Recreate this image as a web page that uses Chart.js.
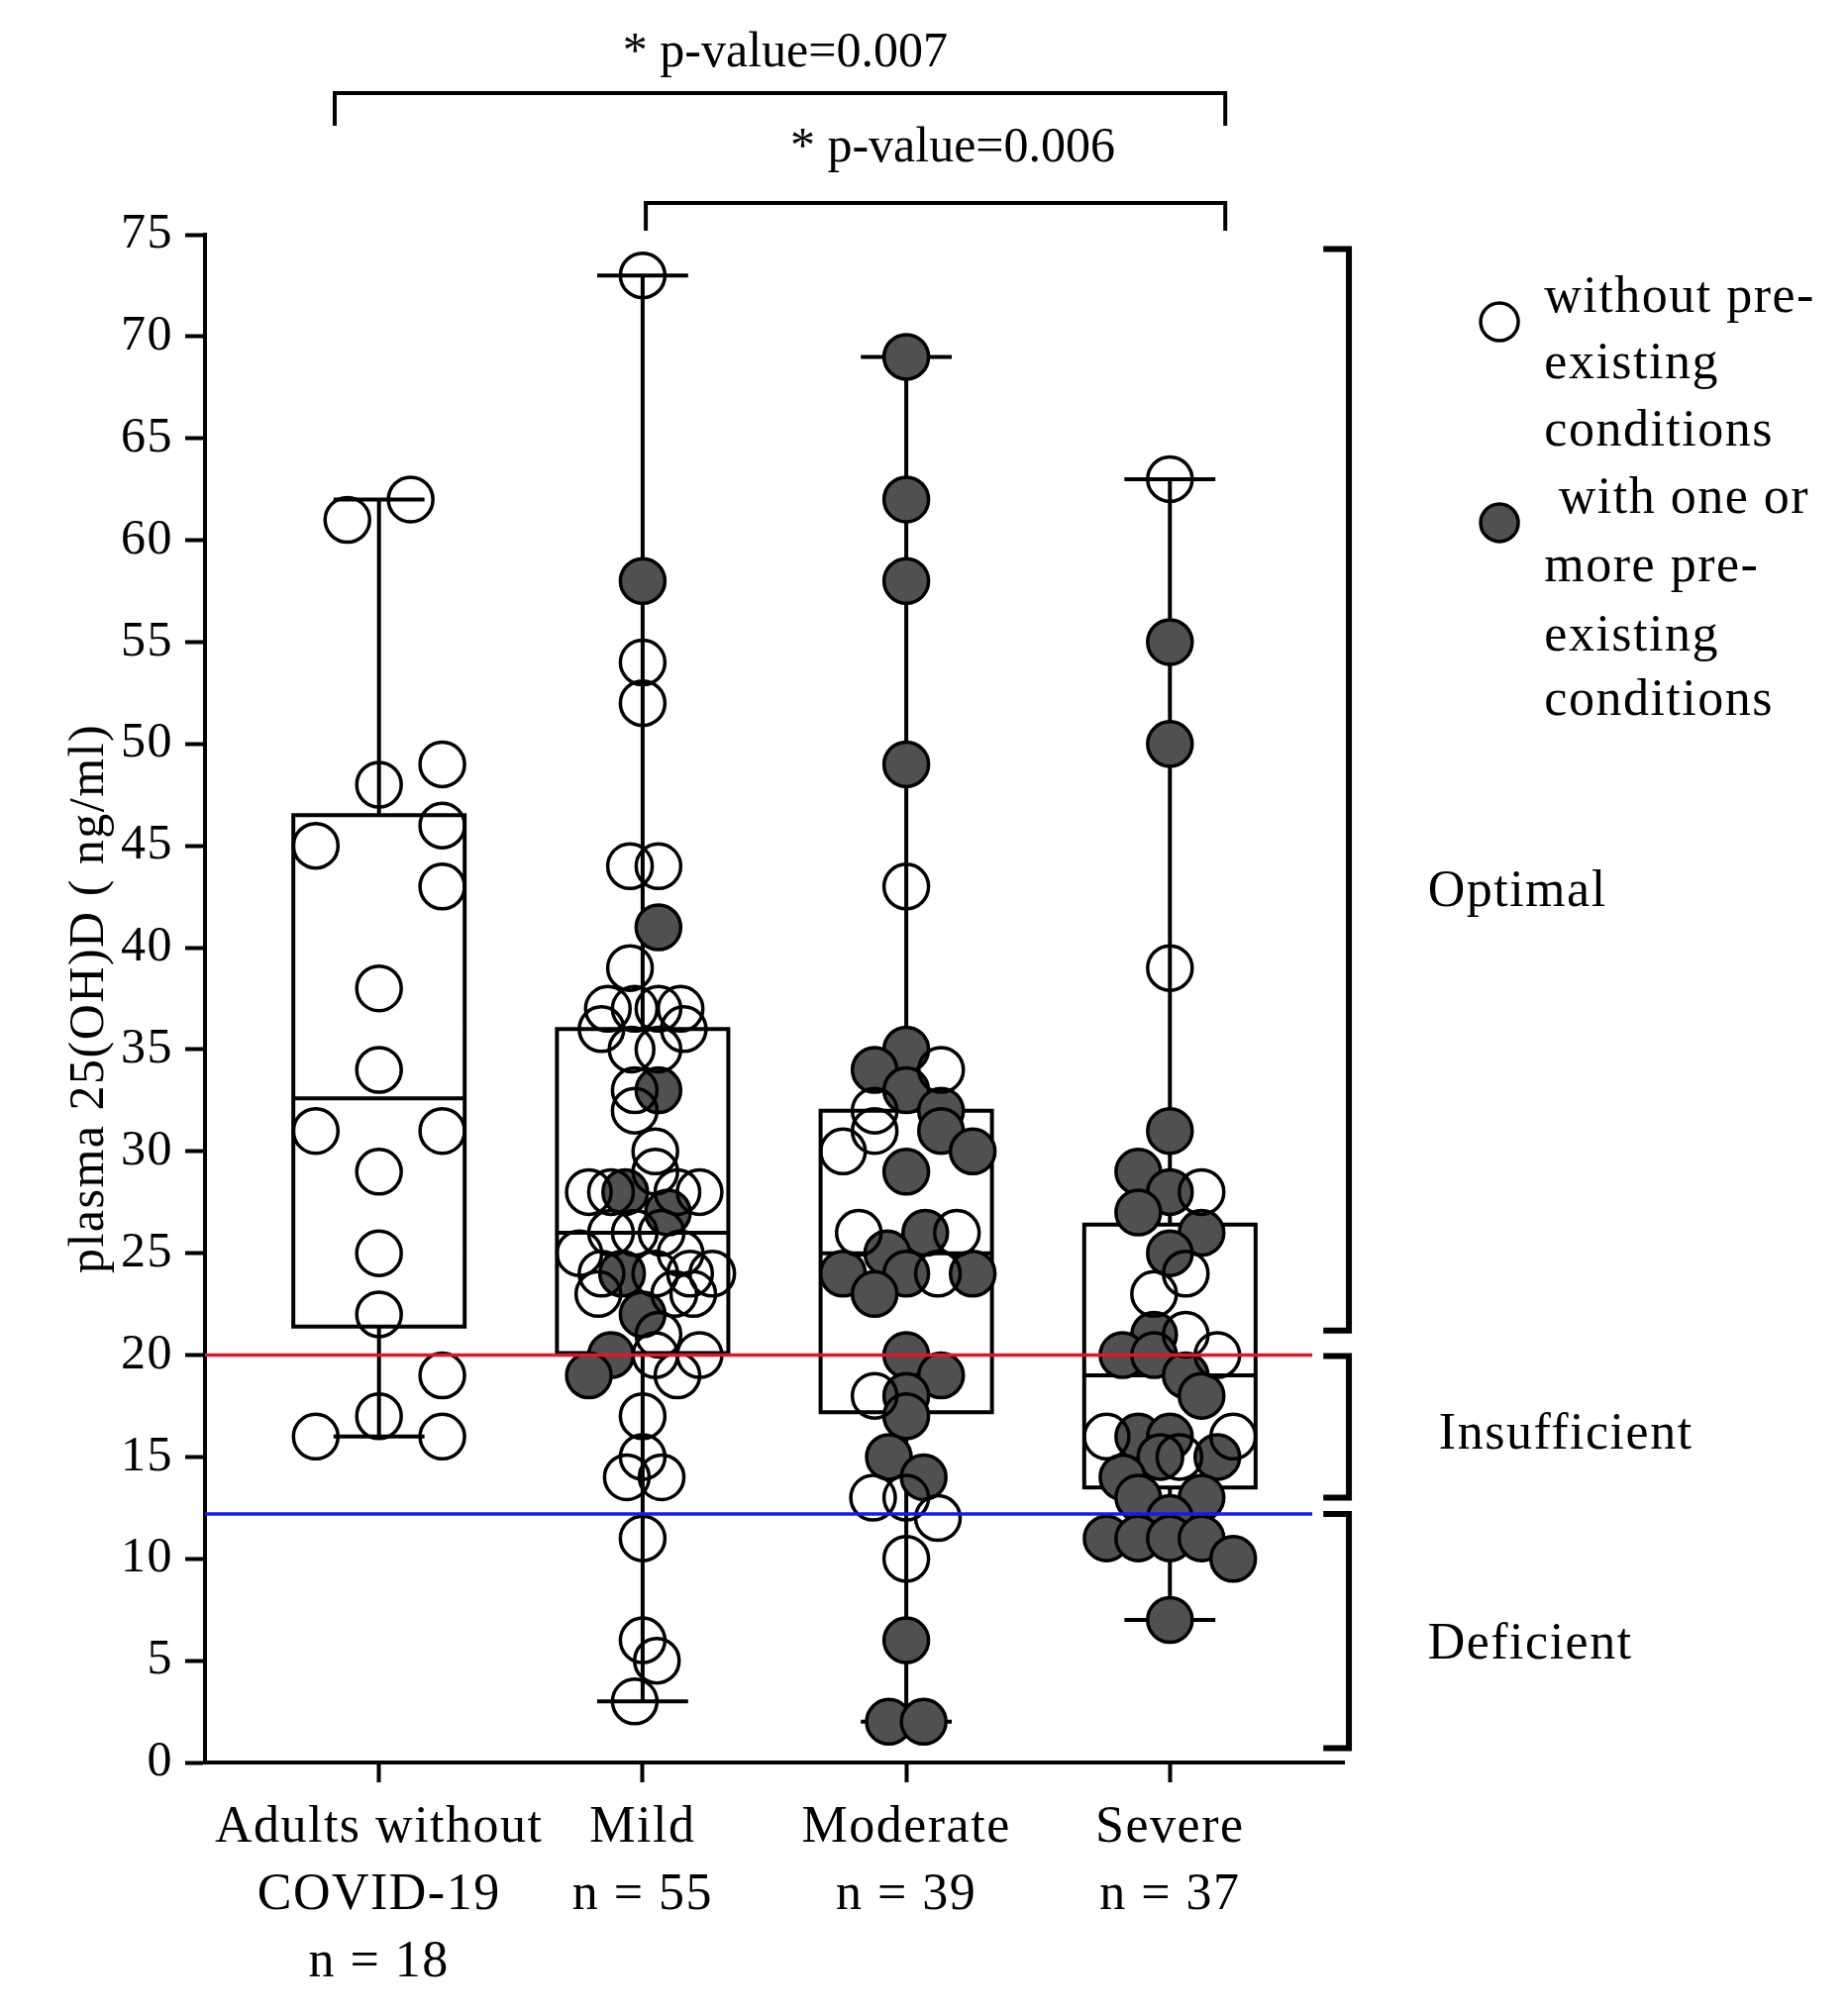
<!DOCTYPE html>
<html><head><meta charset="utf-8">
<script src="https://cdn.jsdelivr.net/npm/chart.js@4.4.1/dist/chart.umd.min.js"></script>
<style>html,body{margin:0;padding:0;background:#fff}canvas{display:block}</style>
</head><body>
<canvas id="c" width="1866" height="2035"></canvas>
<script>
// ---------------- DATA ----------------
const categories = [["Adults without","COVID-19","n = 18"],["Mild","n = 55"],["Moderate","n = 39"],["Severe","n = 37"]];
const yTicks = [0,5,10,15,20,25,30,35,40,45,50,55,60,65,70,75];
const yTitle = "plasma 25(OH)D ( ng/ml)";

// box plot statistics per group
const whiskerLow  = [16, 3, 2, 7];
const q1          = [21.4, 20.1, 17.2, 13.5];
const median      = [32.6, 26, 25, 19];
const q3          = [46.5, 36, 32, 26.4];
const whiskerHigh = [62, 73, 69, 63];

// individual patients (value) and their swarm column (slot) — open = without pre-existing conditions
const adultsOpen      = [62,61,49,48,46,45,43,38,34,31,31,29,25,22,19,17,16,16];
const adultsOpenSlot  = [1,-1,2,0,2,-2,2,0,0,-2,2,0,0,0,2,0,-2,2];
const adultsFilled     = [];
const adultsFilledSlot = [];

const mildOpen      = [73,54,52,44,44,39,37,37,37,37,36,36,35,35,33,32,30,29,28,28,28,28,26,26,26,25,25,24,24,24,24,23,23,23,21,20,20,19,17,15,14,14,11,6,5,3];
const mildOpenSlot  = [0,0,0,-0.4,0.5,-0.4,-1.1,-0.25,0.5,1.2,-1.3,1.3,-0.35,0.5,-0.25,-0.25,0.4,0.4,-1.7,-1.0,1.1,1.8,-1.0,-0.25,0.6,-2.0,1.2,-1.3,0.4,1.5,2.2,-1.4,1.0,1.6,0.5,0.4,1.8,1.1,0,0,-0.5,0.6,0,0,0.45,-0.25];
const mildFilled     = [58,41,33,28,27,24,22,20,19];
const mildFilledSlot = [0,0.5,0.5,-0.55,0.8,-0.65,0,-1.0,-1.7];

const moderateOpen      = [43,34,32,31,30,26,26,24,18,13,13,12,10];
const moderateOpenSlot  = [0,1.1,-1,-1,-2,-1.5,1.6,1,-1,-1.05,0,1,0];
const moderateFilled     = [69,62,58,49,35,34,33,32,31,30,29,26,25,24,24,24,23,20,19,18,17,15,14,6,2,2];
const moderateFilledSlot = [0,0,0,0,0,-1,0,1.1,1.1,2.1,0,0.6,-0.6,-2,0,2.1,-1,0,1.1,0,0,-0.55,0.55,0,-0.55,0.55];

const severeOpen      = [63,39,28,24,23,21,20,16,16,15];
const severeOpenSlot  = [0,0,1,0.5,-0.5,0.5,1.5,-2,2,0.3];
const severeFilled     = [55,50,31,29,28,27,26,25,21,20,20,19,18,16,16,15,15,14,13,13,12,11,11,11,11,10,7];
const severeFilledSlot = [0,0,0,-1,0,-1,1,0,-0.5,-1.5,-0.5,0.5,1,-1,0,1.5,-0.3,-1.5,1,-1,0,-2,-1,0,1,2,0];

const insufficientCut = 20;
const deficientCut = 12.2;

const pTests = [ {label:"* p-value=0.007"}, {label:"* p-value=0.006"} ];
const zones = [ {label:"Optimal", from:74.3, to:21.2}, {label:"Insufficient", from:19.95, to:13.0}, {label:"Deficient", from:12.2, to:0.7} ];
const legendLines = [["without pre-","existing","conditions"],[" with one or","more pre-","existing","conditions"]];

// ---------------- LAYOUT / STYLE ----------------
const FONT = "'Liberation Serif', 'Times New Roman', serif";
const FS = 52;
const SPACING = '1.5px';
const SLOT = 0.12, BOX_HALF = 0.325, CAP_HALF = 0.165;
const FILL = '#505050';
const XMIN = -0.66, XMAX = 3.66;

function swarm(values, slots, g){ return values.map((v,i)=>({x:g+slots[i]*SLOT, y:v})); }
const openPts = [].concat(
  swarm(adultsOpen, adultsOpenSlot, 0), swarm(mildOpen, mildOpenSlot, 1),
  swarm(moderateOpen, moderateOpenSlot, 2), swarm(severeOpen, severeOpenSlot, 3));
const filledPts = [].concat(
  swarm(adultsFilled, adultsFilledSlot, 0), swarm(mildFilled, mildFilledSlot, 1),
  swarm(moderateFilled, moderateFilledSlot, 2), swarm(severeFilled, severeFilledSlot, 3));

const boxPts = [];
categories.forEach((c,i)=>{
  const l=i-BOX_HALF, r=i+BOX_HALF, G={x:i,y:null};
  boxPts.push({x:l,y:q1[i]},{x:r,y:q1[i]},{x:r,y:q3[i]},{x:l,y:q3[i]},{x:l,y:q1[i]},G,
    {x:l,y:median[i]},{x:r,y:median[i]},G,
    {x:i,y:q3[i]},{x:i,y:whiskerHigh[i]},G,
    {x:i,y:q1[i]},{x:i,y:whiskerLow[i]},G,
    {x:i-CAP_HALF,y:whiskerHigh[i]},{x:i+CAP_HALF,y:whiskerHigh[i]},G,
    {x:i-CAP_HALF,y:whiskerLow[i]},{x:i+CAP_HALF,y:whiskerLow[i]},G);
});

const spacingPlugin = {
  id:'spacing',
  beforeDraw(chart){ chart.ctx.letterSpacing = SPACING; }
};

const annot = {
  id:'annot',
  afterDraw(chart){
    const ctx=chart.ctx, xs=chart.scales.x, ys=chart.scales.y;
    const X=v=>xs.getPixelForValue(v), Y=v=>ys.getPixelForValue(v);
    ctx.save();
    ctx.strokeStyle='#000'; ctx.fillStyle='#000';
    // significance brackets
    const sig = [
      {x0:-0.168, x1:3.21, yTop:81.95, yLeg:80.35, tx:1.541, ty:83.27},
      {x0:1.012, x1:3.21, yTop:76.56, yLeg:75.2, tx:2.176, ty:78.6}];
    ctx.lineWidth=4; ctx.lineCap='butt'; ctx.lineJoin='miter';
    ctx.font = '50px '+FONT; ctx.letterSpacing='0px';
    sig.forEach((s,i)=>{
      ctx.beginPath();
      ctx.moveTo(X(s.x0),Y(s.yLeg)); ctx.lineTo(X(s.x0),Y(s.yTop));
      ctx.lineTo(X(s.x1),Y(s.yTop)); ctx.lineTo(X(s.x1),Y(s.yLeg));
      ctx.stroke();
      ctx.textAlign='center'; ctx.textBaseline='alphabetic';
      ctx.fillText(pTests[i].label, X(s.tx), Y(s.ty));
    });
    // zone brackets
    const bx = X(3.679), sx = X(3.582);
    ctx.lineWidth=6; ctx.lineCap='butt'; ctx.lineJoin='miter';
    zones.forEach(z=>{
      ctx.beginPath();
      ctx.moveTo(sx,Y(z.from)); ctx.lineTo(bx,Y(z.from)); ctx.lineTo(bx,Y(z.to)); ctx.lineTo(sx,Y(z.to));
      ctx.stroke();
    });
    ctx.font = FS+'px '+FONT; ctx.letterSpacing = SPACING;
    ctx.textAlign='left';
    ctx.fillText(zones[0].label, X(3.978), Y(42.05));
    ctx.fillText(zones[1].label, X(4.02), Y(15.41));
    ctx.fillText(zones[2].label, X(3.978), Y(5.1));
    // legend
    const lx = X(4.25);
    ctx.lineWidth=3.5;
    [[70.72,'rgba(0,0,0,0)'],[60.86,FILL]].forEach(([yv,fc])=>{
      ctx.beginPath(); ctx.arc(lx,Y(yv),19,0,Math.PI*2);
      ctx.fillStyle=fc; ctx.fill(); ctx.stroke();
    });
    ctx.fillStyle='#000';
    const base=[71.21,67.95,64.65,61.34,57.99,54.59,51.43];
    const lines=[].concat(...legendLines);
    lines.forEach((t,i)=>ctx.fillText(t, X(4.42), Y(base[i])));
    ctx.restore();
  }
};

new Chart(document.getElementById('c'), {
  type:'scatter',
  data:{ datasets:[
    { label:'insufficient', data:[{x:XMIN,y:insufficientCut},{x:3.54,y:insufficientCut}], showLine:true,
      borderColor:'rgb(226,22,42)', borderWidth:3.5, pointRadius:0, order:0, clip:false },
    { label:'deficient', data:[{x:XMIN,y:deficientCut},{x:3.54,y:deficientCut}], showLine:true,
      borderColor:'rgb(25,25,235)', borderWidth:3.5, pointRadius:0, order:0, clip:false },
    { label:'without pre-existing conditions', data:openPts, pointRadius:22.5, pointBorderWidth:3.5,
      pointBackgroundColor:'rgba(255,255,255,0)', pointBorderColor:'#000', order:1, clip:false },
    { label:'with one or more pre-existing conditions', data:filledPts, pointRadius:22.5, pointBorderWidth:3.5,
      pointBackgroundColor:FILL, pointBorderColor:'#000', order:2, clip:false },
    { label:'box', data:boxPts, showLine:true, spanGaps:false, borderColor:'#000', borderWidth:4,
      borderCapStyle:'square', borderJoinStyle:'miter', pointRadius:0, order:3, clip:false }
  ]},
  options:{
    responsive:false, animation:false, devicePixelRatio:1, events:[],
    layout:{ padding:{top:237, right:509, left:0, bottom:0} },
    plugins:{ legend:{display:false}, tooltip:{enabled:false} },
    scales:{
      x:{ type:'linear', min:XMIN, max:XMAX,
        afterFit:s=>{ s.height = 255; },
        afterBuildTicks:s=>{ s.ticks = categories.map((c,i)=>({value:i})); },
        ticks:{ autoSkip:false, maxRotation:0, padding:13, color:'#000',
          font:{family:FONT, size:FS, lineHeight:1.3},
          callback:(v)=>categories[v] },
        grid:{ drawOnChartArea:false, drawTicks:true, tickLength:20, tickWidth:4, tickColor:'#000' },
        border:{ display:true, color:'#000', width:4 } },
      y:{ type:'linear', min:0, max:75,
        afterFit:s=>{ s.width = 207; },
        afterBuildTicks:s=>{ s.ticks = yTicks.map(v=>({value:v})); },
        ticks:{ padding:12, color:'#000', font:{family:FONT, size:50} },
        grid:{ drawOnChartArea:false, drawTicks:true, tickLength:20, tickWidth:4, tickColor:'#000' },
        border:{ display:true, color:'#000', width:4 },
        title:{ display:true, text:yTitle, color:'#000', font:{family:FONT, size:50}, padding:{top:61,bottom:0} } }
    }
  },
  plugins:[spacingPlugin, annot]
});
</script>
</body></html>
